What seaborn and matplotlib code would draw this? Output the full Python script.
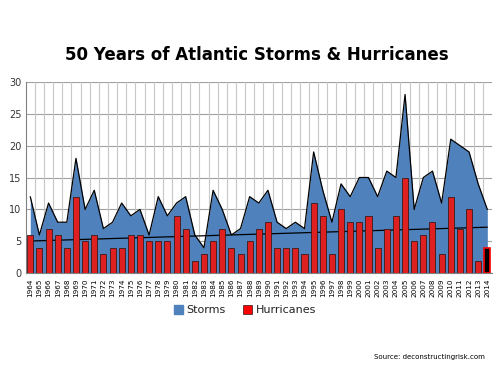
import numpy as np
import matplotlib
matplotlib.use("Agg")
import matplotlib.pyplot as plt
import seaborn as sns
from matplotlib.patches import Patch

years = [str(y) for y in range(1964, 2015)]

storms = [12, 6, 11, 8, 8, 18, 10, 13, 7, 8,
          11, 9, 10, 6, 12, 9, 11, 12, 6, 4,
          13, 10, 6, 7, 12, 11, 13, 8, 7, 8,
          7, 19, 13, 8, 14, 12, 15, 15, 12, 16,
          15, 28, 10, 15, 16, 11, 21, 20, 19, 14,
          10]

hurricanes = [6, 4, 7, 6, 4, 12, 5, 6, 3, 4,
              4, 6, 6, 5, 5, 5, 9, 7, 2, 3,
              5, 7, 4, 3, 5, 7, 8, 4, 4, 4,
              3, 11, 9, 3, 10, 8, 8, 9, 4, 7,
              9, 15, 5, 6, 8, 3, 12, 7, 10, 2,
              4]

storm_blue = "#4F81BD"
hurr_red = "#FF0000"

sns.set_style("white")
plt.rcParams["font.family"] = ["DejaVu Sans"]

fig = plt.figure(figsize=(5, 3.75), dpi=100)
ax = fig.add_axes([0.0514, 0.2712, 0.9324, 0.5109])

idx = np.arange(len(years))

# storms as a filled area
ax.fill_between(idx, storms, color=storm_blue, zorder=1, lw=0)
sns.lineplot(x=idx, y=storms, color="black", lw=0.9, ax=ax, zorder=2)

# hurricanes as bars, last (partial) year in black
colors = [hurr_red] * (len(years) - 1) + ["black"]
sns.barplot(x=idx, y=hurricanes, hue=idx, palette=colors, legend=False,
            width=0.66, edgecolor="#3a1a1a", linewidth=0.6, native_scale=True,
            ax=ax, zorder=3)
ax.patches[-1].set_edgecolor(hurr_red)
ax.patches[-1].set_linewidth(1.2)

# linear trend of hurricanes
sns.regplot(x=idx, y=np.array(hurricanes, dtype=float), scatter=False, ci=None,
            truncate=True, line_kws={"color": "black", "lw": 0.9}, ax=ax)

ax.set_xlim(-0.5, len(years) - 0.5)
ax.set_ylim(0, 30)
ax.set_yticks(range(0, 31, 5))
ax.set_xticks(idx)
ax.set_xticklabels(years, rotation=90, fontsize=5.2, color="black")
ax.tick_params(axis="y", labelsize=7, colors="#333333", length=0, pad=3)
ax.tick_params(axis="x", length=3, pad=1, color="#808080", direction="out")
ax.set_xlabel("")
ax.set_ylabel("")

# gridlines
for v in range(5, 31, 5):
    ax.axhline(v, color="#a0a0a0", lw=0.8, zorder=0)
for b in np.arange(0.5, len(years) - 0.5, 1):
    ax.axvline(b, color="#c8c8c8", lw=0.8, zorder=0)
for s in ["top", "right"]:
    ax.spines[s].set_visible(False)
ax.spines["left"].set_color("#808080")
ax.spines["bottom"].set_color("#808080")
ax.spines["left"].set_linewidth(0.8)
ax.spines["bottom"].set_linewidth(0.8)

fig.text(0.514, 0.853, "50 Years of Atlantic Storms & Hurricanes",
         ha="center", va="center", fontsize=12, fontweight="bold",
         color="black")

handles = [Patch(facecolor=storm_blue, edgecolor=storm_blue),
           Patch(facecolor=hurr_red, edgecolor="#3a1a1a", lw=0.5)]
fig.legend(handles, ["Storms", "Hurricanes"], loc="center",
           bbox_to_anchor=(0.49, 0.173), ncol=2, frameon=False, fontsize=8,
           handlelength=0.8, handleheight=0.8, handletextpad=0.3,
           columnspacing=1.6, labelcolor="#222222")

fig.text(0.97, 0.048, "Source: deconstructingrisk.com", ha="right",
         va="center", fontsize=5, color="black")

fig.savefig("out.png", dpi=100)
